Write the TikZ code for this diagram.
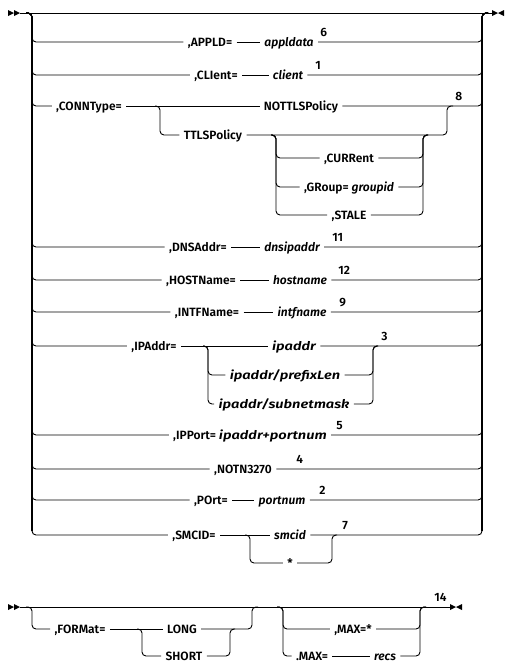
\documentclass[tikz,border=0pt]{standalone}
\usepackage{fontspec}
\usepackage{graphicx}
\setmainfont{Fira Sans}[BoldFont={Fira Sans SemiBold},BoldItalicFont={Fira Sans SemiBold Italic}]
\usetikzlibrary{positioning}
\newcommand{\dfont}{\bfseries\fontsize{12}{14}\selectfont}
\newcommand{\wide}[1]{\scalebox{1.22}[1]{#1}}

\begin{document}
\begin{tikzpicture}[x=1pt,y=-1pt,line width=0.9pt,font=\dfont,
	kw/.style={inner xsep=4pt,inner ysep=0pt,text height=8.3pt,text depth=0pt},
	var/.style={kw,font=\dfont\itshape},
	num/.style={inner sep=0pt,anchor=base west},
	rc/.style={rounded corners=4pt},
	rail/.style={line width=1.5pt}]
	\useasboundingbox (0,0) rectangle (504,662);
	\newcommand{\dblmark}[2]{\fill (#1,#2-3) -- (#1+6,#2) -- (#1,#2+3) -- cycle (#1+6,#2-3) -- (#1+12,#2) -- (#1+6,#2+3) -- cycle;}
	\newcommand{\stopmark}[2]{\fill (#1,#2-3) -- (#1+6,#2) -- (#1,#2+3) -- cycle (#1+12,#2-3) -- (#1+6,#2) -- (#1+12,#2+3) -- cycle;}
	\newcommand{\lrow}[2]{\draw[rc] (26,13) -| (32,#1) -- (#2.west);}
	\newcommand{\rrow}[1]{\draw[rc] (#1.east) -| (482,13) -- (488,13);}
	% first statement
	\coordinate (s1) at (20,13);
	\coordinate (e1) at (492,13);
	\draw (s1) -- (e1);
	\dblmark{8}{13} \stopmark{492}{13}
	\draw[rail] (32,17) -- (32,531);
	\draw[rail] (482,17) -- (482,531);
	% APPLD
	\node[kw] (appld) at (210,42) {,APPLD=};
	\node[var] (appldata) at (289,42) {appldata};
	\node[num] (n6) at (320,36) {6};
	\lrow{42}{appld} \draw (appld) -- (appldata); \rrow{appldata}
	% CLIent
	\node[kw] (clientkw) at (216,75) {,CLIent=};
	\node[var] (client) at (288,75) {client};
	\node[num] (n1) at (315,69) {1};
	\lrow{75}{clientkw} \draw (clientkw) -- (client); \rrow{client}
	% CONNType
	\node[kw] (conn) at (89,106) {,CONNType=};
	\node[kw] (nottls) at (301,106) {NOTTLSPolicy};
	\node[kw] (ttls) at (213,135) {TTLSPolicy};
	\node[num] (n8) at (455,100) {8};
	\lrow{106}{conn} \draw (conn) -- (nottls); \rrow{nottls}
	\draw[rc] (155,106) -| (160,135) -- (ttls.west);
	\draw[rc] (ttls.east) -| (447,106) -- (453,106);
	\node[kw] (curr) at (349,158) {,CURRent};
	\node[kw] (grp) at (349,187) {,GRoup= \textit{groupid}};
	\node[kw] (stale) at (349,215) {,STALE};
	\foreach \n/\y in {curr/158,grp/187,stale/215} {
		\draw[rc] (271,135) -| (276,\y) -- (\n.west);
		\draw[rc] (\n.east) -| (423,135) -- (428,135);
	}
	% DNSAddr, HOSTName, INTFName
	\node[kw] (dns) at (198,247) {,DNSAddr=};
	\node[var] (dnsip) at (292,247) {dnsipaddr};
	\node[num] (n11) at (332,241) {11};
	\lrow{247}{dns} \draw (dns) -- (dnsip); \rrow{dnsip}
	\node[kw] (host) at (201,280) {,HOSTName=};
	\node[var] (hostname) at (300,280) {hostname};
	\node[num] (n12) at (338,274) {12};
	\lrow{280}{host} \draw (host) -- (hostname); \rrow{hostname}
	\node[kw] (intf) at (207,312) {,INTFName=};
	\node[var] (intfname) at (302,312) {intfname};
	\node[num] (n9) at (339,306) {9};
	\lrow{312}{intf} \draw (intf) -- (intfname); \rrow{intfname}
	% IPAddr
	\node[kw] (ipa) at (154,346) {,IPAddr=};
	\node[var] (ipaddr) at (294,346) {\wide{ipaddr}};
	\node[var] (prefix) at (285,375) {\wide{ipaddr/prefixLen}};
	\node[var] (subnet) at (284,404) {\wide{ipaddr/subnetmask}};
	\node[num] (n3) at (381,340) {3};
	\lrow{346}{ipa} \draw (ipa) -- (ipaddr); \rrow{ipaddr}
	\foreach \n/\y in {prefix/375,subnet/404} {
		\draw[rc] (203,346) -| (208,\y) -- (\n.west);
		\draw[rc] (\n.east) -| (373,346) -- (378,346);
	}
	% IPPort, NOTN3270, POrt
	\node[kw] (ipp) at (250,435) {,IPPort= \wide{\textit{ipaddr+portnum}}};
	\node[num] (n5) at (336,429) {5};
	\lrow{435}{ipp} \rrow{ipp}
	\node[kw] (notn) at (243,469) {,NOTN3270};
	\node[num] (n4) at (296,463) {4};
	\lrow{469}{notn} \rrow{notn}
	\node[kw] (port) at (211,500) {,POrt=};
	\node[var] (portnum) at (282,500) {portnum};
	\node[num] (n2) at (319,494) {2};
	\lrow{500}{port} \draw (port) -- (portnum); \rrow{portnum}
	% SMCID
	\node[kw] (smc) at (194,535) {,SMCID=};
	\node[var] (smcid) at (290,535) {smcid};
	\node[kw] (star) at (290,563) {*};
	\node[num] (n7) at (342,529) {7};
	\lrow{535}{smc} \draw (smc) -- (smcid); \rrow{smcid}
	\draw[rc] (245,535) -| (250,563) -- (star.west);
	\draw[rc] (star.east) -| (332,535) -- (337,535);
	% second statement
	\coordinate (s2) at (20,607);
	\coordinate (e2) at (450,607);
	\draw (s2) -- (e2);
	\dblmark{8}{607} \stopmark{450}{607}
	\node[kw] (fmt) at (80,629) {,FORMat=};
	\node[kw] (long) at (182,629) {LONG};
	\node[kw] (short) at (184,656) {SHORT};
	\draw[rc] (26,607) -| (32,629) -- (fmt.west);
	\draw (fmt) -- (long);
	\draw[rc] (long.east) -| (252,607) -- (258,607);
	\draw[rc] (137,629) -| (142,656) -- (short.west);
	\draw[rc] (short.east) -| (230,629) -- (235,629);
	\node[kw] (max1) at (353,629) {,MAX=*};
	\node[kw] (max2) at (312,656) {.MAX=};
	\node[var] (recs) at (385,656) {recs};
	\node[num] (n14) at (434,601) {14};
	\draw[rc] (277,607) -| (283,629) -- (max1.west);
	\draw[rc] (max1.east) -| (420,607) -- (426,607);
	\draw[rc] (277,607) -| (283,656) -- (max2.west);
	\draw (max2) -- (recs);
	\draw[rc] (recs.east) -| (420,607) -- (426,607);
\end{tikzpicture}
\end{document}
